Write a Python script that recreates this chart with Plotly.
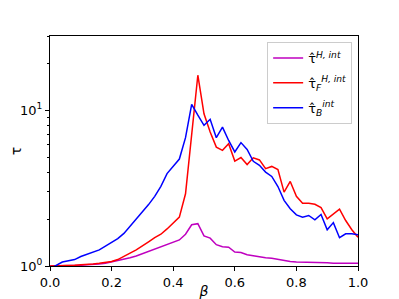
import plotly.graph_objects as go

beta = [round(0.02 * i, 2) for i in range(51)]

tau_H = [1.00, 1.00, 1.00, 1.00, 1.01, 1.01, 1.02, 1.02, 1.03, 1.04,
         1.06, 1.08, 1.10, 1.13, 1.16, 1.20, 1.24, 1.28, 1.32, 1.37,
         1.42, 1.47, 1.60, 1.84, 1.87, 1.56, 1.51, 1.37, 1.33, 1.32,
         1.23, 1.22, 1.18, 1.16, 1.14, 1.13, 1.12, 1.10, 1.08, 1.07,
         1.06, 1.06, 1.06, 1.06, 1.05, 1.05, 1.04, 1.04, 1.04, 1.04, 1.04]

tau_F = [1.00, 1.00, 1.00, 1.01, 1.01, 1.02, 1.02, 1.03, 1.04, 1.05,
         1.07, 1.10, 1.16, 1.21, 1.27, 1.34, 1.43, 1.52, 1.60, 1.73,
         1.88, 2.06, 2.91, 7.0, 16.8, 9.5, 7.25, 5.8, 5.53, 6.1,
         4.72, 4.97, 4.48, 4.95, 4.8, 4.22, 4.36, 4.16, 2.98, 3.49,
         2.80, 2.53, 2.53, 2.49, 2.37, 2.01, 2.17, 2.32, 1.96, 1.71, 1.53]

tau_B = [0.96, 1.01, 1.06, 1.08, 1.10, 1.15, 1.19, 1.23, 1.27, 1.34,
         1.42, 1.50, 1.62, 1.80, 1.98, 2.20, 2.48, 2.80, 3.25, 3.92,
         4.36, 4.86, 6.67, 10.9, 9.3, 8.0, 8.75, 6.67, 7.8, 6.4,
         5.4, 6.2, 5.6, 4.7, 4.43, 4.01, 3.76, 3.24, 2.64, 2.33,
         2.13, 2.06, 2.11, 1.98, 2.14, 1.71, 1.90, 1.52, 1.61, 1.61, 1.59]

x_ticks = [0.0, 0.2, 0.4, 0.6, 0.8, 1.0]
x_labels = ["0.0", "0.2", "0.4", "0.6", "0.8", "1.0"]
y_ticks = [1, 10]
y_labels = ["10<sup>0</sup>", "10<sup>1</sup>"]
y_minor = [2, 3, 4, 5, 6, 7, 8, 9, 20, 30]

names = ["τ̂<sup><i>H, int</i></sup>",
         "τ̂<sub><i>F</i></sub><sup><i>H, int</i></sup>",
         "τ̂<sub><i>B</i></sub><sup><i>int</i></sup>"]
colors = ["#bf00bf", "#ff0000", "#0000ff"]

fig = go.Figure()
for i, (ys, nm, c) in enumerate(zip([tau_H, tau_F, tau_B], names, colors)):
    fig.add_trace(go.Scatter(x=beta, y=ys, mode="lines", name=nm,
                             legendgroup=f"g{i}",
                             line=dict(color=c, width=1.5)))

font = dict(family="DejaVu Sans", size=13, color="black")
fig.update_layout(
    width=391, height=291,
    margin=dict(l=42, r=41, t=28, b=33),
    paper_bgcolor="white", plot_bgcolor="white",
    font=font,
    showlegend=True,
    legend=dict(x=0.981, y=0.974, xanchor="right", yanchor="top",
                bgcolor="rgba(255,255,255,0.8)", bordercolor="#cccccc",
                borderwidth=1, font=dict(family="DejaVu Sans", size=13),
                itemwidth=30, tracegroupgap=5),
)
fig.update_xaxes(range=[0, 1], tickvals=x_ticks, ticktext=x_labels,
                 automargin=False,
                 showgrid=False, zeroline=False, showline=True, mirror=True,
                 linecolor="black", linewidth=1, ticks="outside", ticklen=4,
                 tickcolor="black", title=dict(text="<i>β</i>", standoff=2,
                                               font=dict(size=14)))
fig.update_yaxes(type="log", range=[0, 1.4771], tickvals=y_ticks, ticktext=y_labels,
                 automargin=False,
                 showgrid=False, zeroline=False, showline=True, mirror=True,
                 linecolor="black", linewidth=1, ticks="outside", ticklen=4,
                 tickcolor="black",
                 minor=dict(tickvals=y_minor, ticks="outside", ticklen=2,
                            tickcolor="black", showgrid=False),
                 title=dict(text="τ", standoff=0, font=dict(size=14)))

fig.write_html("out.html")
